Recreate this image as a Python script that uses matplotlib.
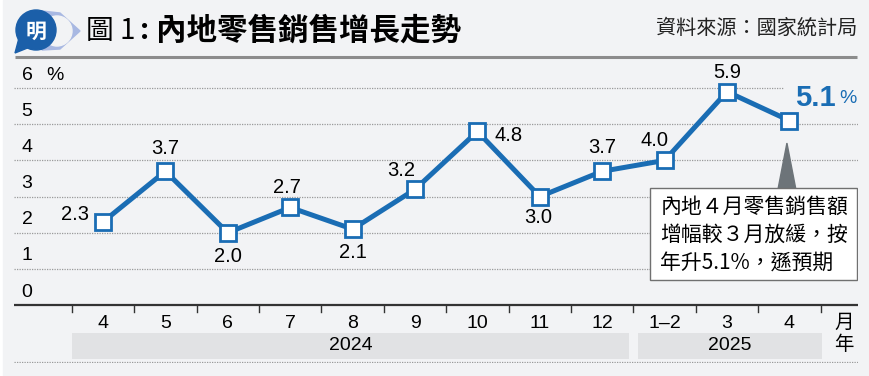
import numpy as np
import matplotlib.pyplot as plt
from matplotlib.patches import Rectangle, Polygon, Circle

months = ['4', '5', '6', '7', '8', '9', '10', '11', '12', '1–2', '3', '4']
values = [2.3, 3.7, 2.0, 2.7, 2.1, 3.2, 4.8, 3.0, 3.7, 4.0, 5.9, 5.1]
years = ['2024', '2025']
year_span = [(0, 8), (9, 11)]  # first and last month index of each year
yticks = [0, 1, 2, 3, 4, 5, 6]
# label offsets in pixels (x, y) for each point label
label_off = [(-28, 7), (0, 23), (0, -24), (-3, 20), (0, -23), (-14, 19),
             (31, -4), (-2, -21), (0, 24), (-10, 20), (0, 19)]

BG = '#f2f3f5'
BLUE = '#1a6db4'
NUM = ['Liberation Sans', 'DejaVu Sans']
CJK = ['Noto Sans CJK TC', 'DejaVu Sans']

fig = plt.figure(figsize=(8.7, 3.76), dpi=100)
fig.patch.set_facecolor('white')

# decoration layer in pixel coords
deco = fig.add_axes([0, 0, 1, 1])
deco.set_xlim(0, 870)
deco.set_ylim(376, 0)
deco.axis('off')
deco.add_patch(Rectangle((3, 0), 867, 376, color=BG, zorder=0))
# icon
deco.add_patch(Polygon([(42, 11), (60, 13), (80, 31), (60, 49), (42, 50)], closed=True,
                       color='#a8b8e2', zorder=1))
deco.add_patch(Circle((57, 31), 15, color=BG, zorder=2))
deco.add_patch(Circle((36, 30), 20, color='#1b5fa9', zorder=3))
deco.add_patch(Polygon([(19, 38), (15, 53), (30, 47)], closed=True, color='#1b5fa9', zorder=3))
deco.text(36, 31, '明', color='white', fontsize=15, fontweight='bold', family=CJK,
          ha='center', va='center', zorder=4)
deco.text(86, 31, '圖 1', fontsize=20, fontweight='medium', family=CJK, ha='left', va='center')
deco.text(145, 31, ':', fontsize=20, fontweight='bold', family=CJK, ha='center', va='center')
deco.text(156, 31, '內地零售銷售增長走勢', fontsize=22, fontweight='bold', family=CJK,
          ha='left', va='center')
deco.text(857, 28, '資料來源：國家統計局', fontsize=14.5, family=CJK, ha='right', va='center',
          color='#222222')
deco.plot([15, 857], [57, 57], color='#8c8c8c', lw=2.2, solid_capstyle='butt')

# main chart: category i sits at pixel 103 + 62.4*i, value 0 at pixel 305, 36.17 px per unit
ax = fig.add_axes([14 / 870, 13 / 376, 844 / 870, 297 / 376])
ax.set_xlim(-1.426, 12.099)
ax.set_ylim(-1.6, 6.61)
ax.axis('off')
ax.patch.set_alpha(0)

x = np.arange(len(values))
xl, xr = ax.get_xlim()
for v in yticks[1:]:
    ax.hlines(v, xl, 10.9 if v == 6 else xr, colors='#9a9a9a', lw=0.9, linestyles=(0, (1, 1)))
for v in yticks:
    ax.text(-1.218, v + 0.36, str(v), fontsize=14, family=NUM, ha='center', va='center')
ax.text(-0.77, 6.36, '%', fontsize=14, family=NUM, ha='center', va='center')
ax.hlines(0, xl, xr, colors='#333333', lw=1.6)
ax.hlines(-1.58, xl, xr, colors='#9a9a9a', lw=0.9, linestyles=(0, (1, 1)))

# ticks and month labels
for b in np.arange(-0.5, len(values)):
    ax.plot([b, b], [0, -0.19], color='#333333', lw=1)
for i, m in enumerate(months):
    ax.text(i, -0.5, m, fontsize=14, family=NUM, ha='center', va='center')
ax.text(11.875, -0.47, '月', fontsize=14, family=CJK, ha='center', va='center')
ax.text(11.875, -1.1, '年', fontsize=14, family=CJK, ha='center', va='center')
for (a, b), yr in zip(year_span, years):
    x0 = a - 0.5 + (0.0 if a == 0 else 0.07)
    x1 = b + 0.5 - (0.07 if b == 8 else -0.02)
    ax.add_patch(Rectangle((x0, -1.49), x1 - x0, 0.72, color='#e1e2e4', lw=0))
    ax.text((x0 + x1) / 2, -1.13, yr, fontsize=14, family=NUM, ha='center', va='center')

# line
ax.plot(x, values, color=BLUE, lw=3.6, marker='s', markersize=11, markerfacecolor='white',
        markeredgecolor=BLUE, markeredgewidth=2, zorder=5)
for i in range(len(values) - 1):
    ax.annotate(f'{values[i]:.1f}', (x[i], values[i]), xytext=label_off[i],
                textcoords='offset pixels', fontsize=14.5, family=NUM, ha='center', va='center')
ax.annotate(f'{values[-1]:.1f}', (x[-1], values[-1]), xytext=(46, 23), textcoords='offset pixels',
            fontsize=21, fontweight='heavy', family=NUM, color=BLUE, ha='right', va='center')
ax.annotate('%', (x[-1], values[-1]), xytext=(50, 22), textcoords='offset pixels',
            fontsize=14, family=NUM, color=BLUE, ha='left', va='center')

# callout
ax.add_patch(Polygon([(10.96, 4.48), (10.82, 3.23), (11.1, 3.23)], closed=True,
                     color='#6d7479', zorder=6))
ax.add_patch(Rectangle((8.77, 0.69), 3.31, 2.54, facecolor='white', edgecolor='#707070',
                       lw=1, zorder=7))
notes = ['內地４月零售銷售額', '增幅較３月放緩，按', '年升5.1%，遜預期']
for k, line in enumerate(notes):
    ax.text(8.93, 2.71 - 0.775 * k, line, fontsize=15, family=CJK, ha='left', va='center', zorder=8)

fig.savefig('out.png', dpi=100, facecolor=fig.get_facecolor())
